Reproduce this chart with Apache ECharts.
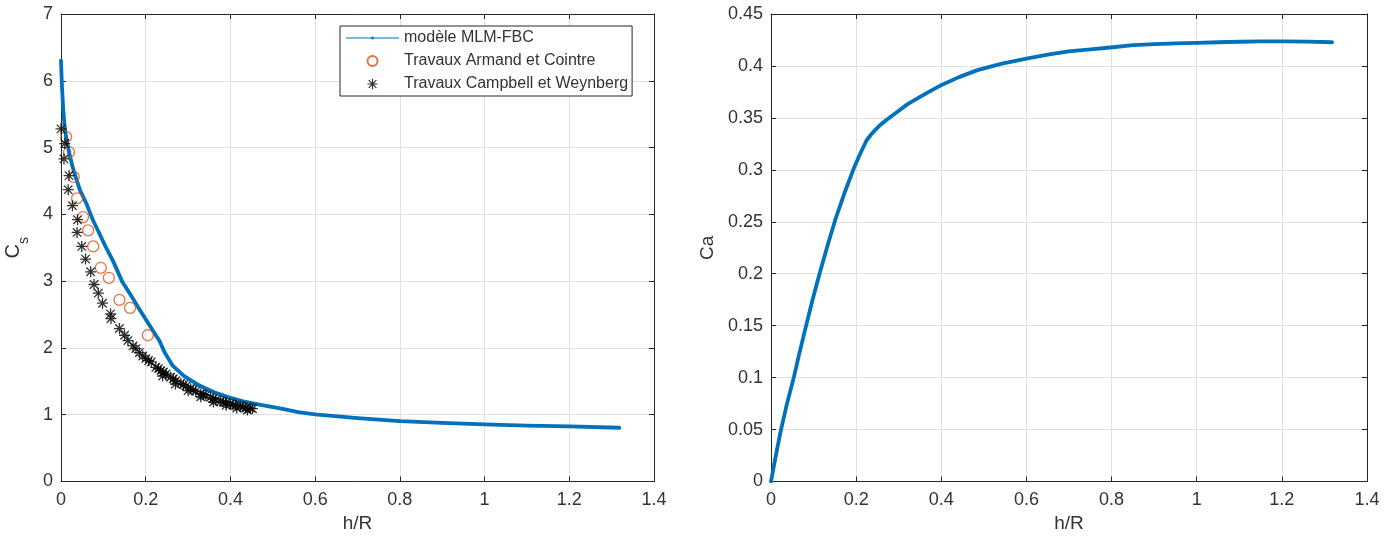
<!DOCTYPE html>
<html>
<head>
<meta charset="utf-8">
<script src="https://cdn.jsdelivr.net/npm/echarts@6/dist/echarts.min.js"></script>
<style>
html,body{margin:0;padding:0;background:#fff;}
#c{width:1384px;height:543px;}
</style>
</head>
<body>
<div id="c"></div>
<script>
// ---- Data ----
const csModelX = [0, 0.002, 0.005, 0.008, 0.012, 0.019, 0.027, 0.035, 0.045, 0.06, 0.075, 0.09, 0.105, 0.123, 0.144, 0.165, 0.185, 0.209, 0.225, 0.232, 0.245, 0.263, 0.29, 0.326, 0.36, 0.396, 0.43, 0.468, 0.52, 0.56, 0.6, 0.7, 0.8, 0.9, 1.0, 1.1, 1.2, 1.318];
const csModelY = [6.30, 5.95, 5.60, 5.35, 5.16, 4.93, 4.72, 4.55, 4.36, 4.16, 3.92, 3.72, 3.52, 3.30, 3.00, 2.79, 2.58, 2.34, 2.18, 2.11, 1.93, 1.74, 1.58, 1.44, 1.34, 1.26, 1.20, 1.15, 1.09, 1.04, 1.005, 0.95, 0.905, 0.877, 0.854, 0.838, 0.824, 0.805];

const armandX = [0.012, 0.019, 0.030, 0.038, 0.052, 0.064, 0.076, 0.094, 0.113, 0.138, 0.163, 0.205];
const armandY = [5.16, 4.93, 4.56, 4.24, 3.96, 3.76, 3.52, 3.20, 3.05, 2.72, 2.60, 2.19];

const campbellX = [0.000, 0.009, 0.007, 0.019, 0.017, 0.027, 0.039, 0.038, 0.049, 0.058, 0.070, 0.078, 0.088, 0.098, 0.117, 0.118, 0.138, 0.150, 0.158, 0.170, 0.177, 0.185, 0.193, 0.200, 0.207, 0.213, 0.224, 0.230, 0.236, 0.242, 0.248, 0.259, 0.265, 0.271, 0.283, 0.289, 0.295, 0.306, 0.312, 0.318, 0.330, 0.336, 0.342, 0.353, 0.359, 0.365, 0.377, 0.383, 0.389, 0.400, 0.406, 0.412, 0.424, 0.430, 0.436, 0.447, 0.452,
  0.240, 0.270, 0.300, 0.330, 0.360, 0.390, 0.415, 0.440];
const campbellY = [5.28, 5.06, 4.83, 4.58, 4.37, 4.13, 3.92, 3.73, 3.52, 3.33, 3.14, 2.95, 2.82, 2.67, 2.51, 2.44, 2.29, 2.19, 2.11, 2.03, 1.99, 1.93, 1.88, 1.84, 1.81, 1.79, 1.71, 1.69, 1.66, 1.64, 1.61, 1.56, 1.54, 1.51, 1.47, 1.45, 1.43, 1.39, 1.37, 1.35, 1.31, 1.30, 1.29, 1.26, 1.24, 1.22, 1.20, 1.19, 1.18, 1.16, 1.15, 1.14, 1.13, 1.12, 1.10, 1.10, 1.09,
  1.58, 1.46, 1.36, 1.27, 1.19, 1.14, 1.10, 1.07];

const caX = [0, 0.010, 0.022, 0.037, 0.0535, 0.067, 0.080, 0.097, 0.114, 0.132, 0.151, 0.173, 0.195, 0.210, 0.224, 0.235, 0.244, 0.256, 0.268, 0.297, 0.32, 0.349, 0.375, 0.402, 0.44, 0.485, 0.54, 0.6, 0.65, 0.699, 0.75, 0.803, 0.85, 0.902, 0.95, 1.0, 1.05, 1.1, 1.15, 1.205, 1.26, 1.318];
const caY = [0, 0.022, 0.047, 0.074, 0.100, 0.124, 0.146, 0.174, 0.200, 0.226, 0.252, 0.278, 0.302, 0.316, 0.328, 0.334, 0.338, 0.343, 0.347, 0.356, 0.363, 0.370, 0.376, 0.382, 0.389, 0.396, 0.402, 0.407, 0.411, 0.414, 0.416, 0.418, 0.420, 0.421, 0.4218, 0.4223, 0.4228, 0.4233, 0.4236, 0.4237, 0.4235, 0.4228];

const xTicks = {min: 0, max: 1.4, interval: 0.2};
const csTicks = {min: 0, max: 7, interval: 1};
const caTicks = {min: 0, max: 0.45, interval: 0.05};

const seriesNames = ['modèle MLM-FBC', 'Travaux Armand et Cointre', 'Travaux Campbell et Weynberg'];

// ---- helpers ----
const zip = (xs, ys) => xs.map((x, i) => [x, ys[i]]);
const FONT = 'Liberation Sans, Arial, Helvetica, sans-serif';
const AX = '#262626';
const TXT = '#333333';
const GRIDC = '#e0e0e0';
const BLUE = '#0072BD';
const asterisk = 'path://M4.4 0 L5.6 0 L5.6 10 L4.4 10 Z M0 4.4 L10 4.4 L10 5.6 L0 5.6 Z M1.58 0.73 L9.27 8.42 L8.42 9.27 L0.73 1.58 Z M8.42 0.73 L9.27 1.58 L1.58 9.27 L0.73 8.42 Z';
const lineLegendIcon = 'path://M0 0 M53 10 M0 4.4 L53 4.4 L53 5.6 L0 5.6 Z M25.3 3.8 L27.7 3.8 L27.7 6.2 L25.3 6.2 Z';

function mainX(grid, ticks, name) {
  return Object.assign({
    type: 'value', gridIndex: grid, position: 'bottom',
    name: name, nameLocation: 'middle', nameGap: 31,
    nameTextStyle: {fontFamily: FONT, fontSize: 19, color: TXT},
    axisLine: {show: true, onZero: false, lineStyle: {color: AX, width: 1}},
    axisTick: {show: true, inside: true, length: 5, lineStyle: {color: AX}},
    axisLabel: {fontFamily: FONT, fontSize: 18, color: TXT, margin: 10},
    splitLine: {show: true, lineStyle: {color: GRIDC, width: 1}}
  }, ticks);
}
function sideX(grid, ticks) {
  return Object.assign({
    type: 'value', gridIndex: grid, position: 'top',
    axisLine: {show: true, onZero: false, lineStyle: {color: AX, width: 1}},
    axisTick: {show: true, inside: true, length: 5, lineStyle: {color: AX}},
    axisLabel: {show: false}, splitLine: {show: false}
  }, ticks);
}
function mainY(grid, ticks, name, gap) {
  return Object.assign({
    type: 'value', gridIndex: grid, position: 'left',
    name: name, nameLocation: 'middle', nameGap: gap, nameRotate: 90,
    nameTextStyle: {fontFamily: FONT, fontSize: 19, color: TXT,
      rich: {c: {fontFamily: FONT, fontSize: 20, color: TXT, lineHeight: 28, verticalAlign: 'top'},
             s: {fontFamily: FONT, fontSize: 14, color: TXT, lineHeight: 28, verticalAlign: 'bottom'}}},
    axisLine: {show: true, onZero: false, lineStyle: {color: AX, width: 1}},
    axisTick: {show: true, inside: true, length: 5, lineStyle: {color: AX}},
    axisLabel: {fontFamily: FONT, fontSize: 18, color: TXT, margin: 8},
    splitLine: {show: true, lineStyle: {color: GRIDC, width: 1}}
  }, ticks);
}
function sideY(grid, ticks) {
  return Object.assign({
    type: 'value', gridIndex: grid, position: 'right',
    axisLine: {show: true, onZero: false, lineStyle: {color: AX, width: 1}},
    axisTick: {show: true, inside: true, length: 5, lineStyle: {color: AX}},
    axisLabel: {show: false}, splitLine: {show: false}
  }, ticks);
}

const chart = echarts.init(document.getElementById('c'), null, {renderer: 'canvas'});
chart.setOption({
  animation: false,
  backgroundColor: '#ffffff',
  grid: [
    {left: 61, right: 730, top: 14, bottom: 61.5, containLabel: false},
    {left: 771, right: 17, top: 14, bottom: 61.5, containLabel: false}
  ],
  xAxis: [mainX(0, xTicks, 'h/R'), sideX(0, xTicks), mainX(1, xTicks, 'h/R'), sideX(1, xTicks)],
  yAxis: [mainY(0, csTicks, '{c|C}{s|s}', 30), sideY(0, csTicks), mainY(1, caTicks, 'Ca', 54), sideY(1, caTicks)],
  legend: {
    show: true, orient: 'vertical', left: 340, top: 26,
    backgroundColor: '#ffffff',
    borderColor: AX, borderWidth: 1, borderRadius: 0,
    padding: [4, 4, 4, 6], itemGap: 7,
    itemWidth: 53, itemHeight: 10,
    textStyle: {fontFamily: FONT, fontSize: 16, color: TXT},
    data: [
      {name: seriesNames[0], icon: lineLegendIcon},
      {name: seriesNames[1]},
      {name: seriesNames[2]}
    ]
  },
  series: [
    {
      name: seriesNames[0], type: 'line', xAxisIndex: 0, yAxisIndex: 0,
      data: zip(csModelX, csModelY), symbol: 'circle', symbolSize: 3, showSymbol: true,
      lineStyle: {color: BLUE, width: 3.8, join: 'round', cap: 'round'}, itemStyle: {color: BLUE}, z: 2
    },
    {
      name: seriesNames[1], type: 'scatter', xAxisIndex: 0, yAxisIndex: 0,
      data: zip(armandX, armandY), symbol: 'circle', symbolSize: 11,
      itemStyle: {color: 'rgba(255,255,255,0)', borderColor: '#D95319', borderWidth: 1.3}, z: 3
    },
    {
      name: seriesNames[2], type: 'scatter', xAxisIndex: 0, yAxisIndex: 0,
      data: zip(campbellX, campbellY), symbol: asterisk, symbolSize: 11,
      itemStyle: {color: '#000000'}, z: 4
    },
    {
      name: 'Ca', type: 'line', xAxisIndex: 2, yAxisIndex: 2,
      data: zip(caX, caY), symbol: 'none',
      lineStyle: {color: BLUE, width: 3.8, join: 'round', cap: 'round'}, z: 2
    }
  ]
});
</script>
</body>
</html>
